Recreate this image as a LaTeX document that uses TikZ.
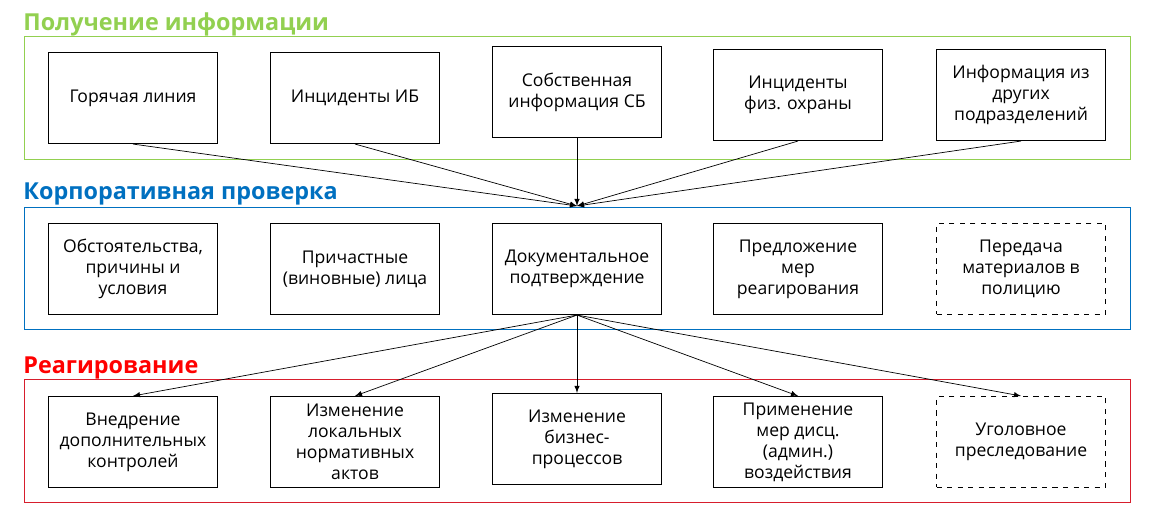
\documentclass[tikz,border=0pt]{standalone}
\usepackage{fontspec}
\setmainfont{Open Sans}
\usetikzlibrary{arrows.meta}
\definecolor{infogreen}{RGB}{146,208,80}
\definecolor{checkblue}{RGB}{0,112,192}
\definecolor{reactred}{RGB}{255,0,0}
\definecolor{reactframe}{RGB}{215,30,45}
\tikzset{
  stagebox/.style={draw=black,line width=0.65pt,minimum width=3.38cm,minimum height=1.82cm,inner sep=0pt,align=center,font=\fontsize{10}{12}\selectfont},
  optbox/.style={stagebox,dashed},
  stagetitle/.style={anchor=base west,inner sep=0pt,font=\fontsize{13.3}{16}\selectfont\bfseries},
  flow/.style={thin,-latex}
}
\begin{document}
\begin{tikzpicture}[x=0.02cm,y=-0.02cm]
        \useasboundingbox (0,0) rectangle (1153,519);
        \node[stagetitle,text=infogreen] (t1) at (23,31) {Получение информации};
        \node[stagetitle,text=checkblue] (t2) at (23,200) {Корпоративная проверка};
        \node[stagetitle,text=reactred] (t3) at (23,374) {Реагирование};
        \draw[infogreen] (24,36) rectangle (1130,159);
        \draw[checkblue] (24,207) rectangle (1130,329);
        \draw[reactframe] (24,379) rectangle (1130,502);
        \node[stagebox] (src1) at (133,98) {Горячая линия};
        \node[stagebox] (src2) at (355,98) {Инциденты ИБ};
        \node[stagebox] (src3) at (577,92) {Собственная\\информация СБ};
        \node[stagebox] (src4) at (798,95) {Инциденты\\физ. охраны};
        \node[stagebox] (src5) at (1021,95) {Информация из\\других\\подразделений};
        \node[stagebox] (chk1) at (133,269) {Обстоятельства,\\причины и\\условия};
        \node[stagebox] (chk2) at (355,269) {Причастные\\(виновные) лица};
        \node[stagebox] (doc) at (577,269) {Документальное\\подтверждение};
        \node[stagebox] (chk4) at (798,269) {Предложение\\мер\\реагирования};
        \node[optbox] (chk5) at (1021,269) {Передача\\материалов в\\полицию};
        \node[stagebox] (act1) at (133,442) {Внедрение\\дополнительных\\контролей};
        \node[stagebox] (act2) at (355,442) {Изменение\\локальных\\нормативных\\актов};
        \node[stagebox] (act3) at (577,439) {Изменение\\бизнес-\\процессов};
        \node[stagebox] (act4) at (798,442) {Применение\\мер дисц.\\(админ.)\\воздействия};
        \node[optbox] (act5) at (1021,442) {Уголовное\\преследование};
        \coordinate (hub) at (577,206);
        \foreach \s in {src1,src2,src3,src4,src5} \draw[flow] (\s.south) -- (hub);
        \foreach \a in {act1,act2,act3,act4,act5} \draw[flow] (doc.south) -- (\a.north);
      \end{tikzpicture}
\end{document}
